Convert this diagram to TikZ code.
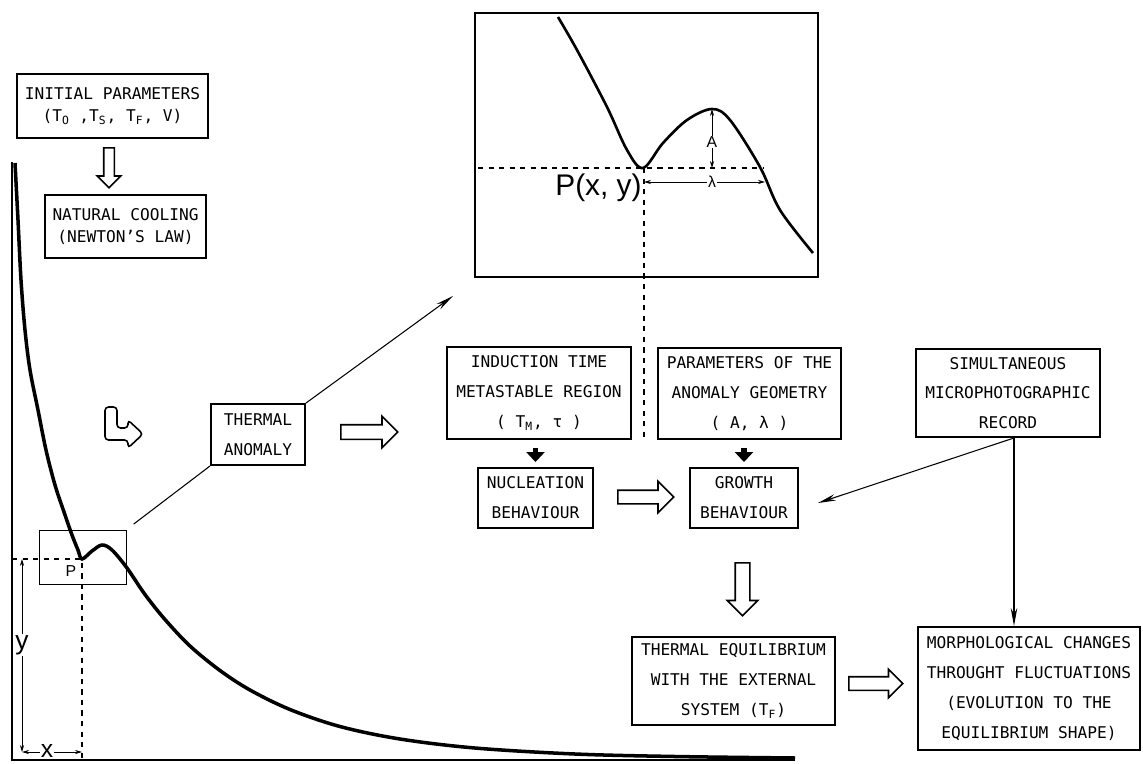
\documentclass[tikz,border=0pt]{standalone}
\usepackage{fontspec}
\setmonofont{DejaVu Sans Mono}
\newfontfamily\labelfont{Liberation Sans}
\usetikzlibrary{shapes.arrows,arrows.meta}
\tikzset{box/.style={draw, line width=1.1pt, align=center, inner sep=1pt, font=\ttfamily\fontsize{9.2}{17}\selectfont}}
\tikzset{tightbox/.style={box, font=\ttfamily\fontsize{9.2}{13}\selectfont}}
\tikzset{hollow/.style={single arrow, draw, line width=0.9pt, inner xsep=0pt, fill=white}}
\tikzset{thin arrow/.style={line width=0.6pt, -{Stealth[length=0.36cm, width=0.13cm]}}}
\tikzset{dim/.style={line width=0.5pt, {Stealth[length=4pt, width=2.4pt]}-{Stealth[length=4pt, width=2.4pt]}}}
\tikzset{fat/.style={line width=3pt, -{Triangle[length=0.2cm, width=0.36cm]}}}
\tikzset{tag/.style={fill=white, inner sep=0.5pt, font=\labelfont\fontsize{9}{9}\selectfont}}

\begin{document}
\begin{tikzpicture}
  \useasboundingbox (0,0) rectangle (22.86,-15.26);

  \node (init) [tightbox, minimum width=3.82cm, minimum height=1.28cm] at (2.25cm, -2.12cm) {INITIAL PARAMETERS\\(T\textsubscript{O} ,T\textsubscript{S}, T\textsubscript{F}, V)};
  \node (cooling) [tightbox, minimum width=3.22cm, minimum height=1.26cm] at (2.51cm, -4.53cm) {NATURAL COOLING\\(NEWTON’S LAW)};
  \node (anomaly) [box, minimum width=1.88cm, minimum height=1.22cm] at (5.16cm, -8.69cm) {THERMAL\\ANOMALY};
  \node (induction) [box, minimum width=3.68cm, minimum height=1.84cm] at (10.78cm, -7.86cm) {INDUCTION TIME\\METASTABLE REGION\\( T\textsubscript{M}, τ )};
  \node (geometry) [box, minimum width=3.66cm, minimum height=1.82cm] at (14.99cm, -7.87cm) {PARAMETERS OF THE\\ANOMALY GEOMETRY\\( A, λ )};
  \node (record) [box, minimum width=3.68cm, minimum height=1.76cm] at (20.16cm, -7.86cm) {SIMULTANEOUS\\MICROPHOTOGRAPHIC\\RECORD};
  \node (nucleation) [box, minimum width=2.30cm, minimum height=1.20cm] at (10.71cm, -9.96cm) {NUCLEATION\\BEHAVIOUR};
  \node (growth) [box, minimum width=2.16cm, minimum height=1.20cm] at (14.88cm, -9.96cm) {GROWTH\\BEHAVIOUR};
  \node (equilibrium) [box, minimum width=4.06cm, minimum height=1.76cm] at (14.67cm, -13.62cm) {THERMAL EQUILIBRIUM\\WITH THE EXTERNAL\\SYSTEM (T\textsubscript{F})};
  \node (morphology) [box, minimum width=4.44cm, minimum height=2.46cm] at (20.58cm, -13.77cm) {MORPHOLOGICAL CHANGES\\THROUGHT FLUCTUATIONS\\(EVOLUTION TO THE\\EQUILIBRIUM SHAPE)};

  % cooling curve
  \draw[line width=2pt] plot[smooth, tension=0.55] coordinates {(0.30,-3.26) (0.36,-4.40) (0.42,-5.60) (0.50,-6.60) (0.60,-7.40) (0.76,-8.20) (0.92,-9.0) (1.10,-9.70) (1.28,-10.24) (1.44,-10.70) (1.56,-11.0) (1.64,-11.18) (1.84,-11.02) (2.04,-10.9) (2.24,-11.0) (2.54,-11.36) (2.9,-11.89) (3.3,-12.39) (3.8,-12.92) (4.4,-13.41) (5.0,-13.80) (5.8,-14.19) (6.8,-14.53) (8.0,-14.78) (9.5,-14.96) (11.5,-15.08) (13.5,-15.13) (15.9,-15.16)};
  \coordinate (P) at (1.64,-11.18);
  \node (zoombox) [draw, line width=0.5pt, minimum width=1.74cm, minimum height=1.08cm] at (1.65cm, -11.14cm) {};
  \draw[dashed, line width=0.6pt] (0.24,-11.18) -- (P) -- (1.64,-15.2);
  \node (plab) [tag, fill=none] at (1.42,-11.42) {P};
  \draw[dim] (0.44,-11.18) -- (0.44,-15.04);
  \draw[dim] (0.44,-15.04) -- (1.64,-15.04);
  \node (ylab) [tag, font=\labelfont\fontsize{15}{15}\selectfont] at (0.44,-12.9) {y};
  \node (xlab) [tag, font=\labelfont\fontsize{14}{14}\selectfont] at (0.94,-15.02) {x};
  \draw[line width=1.5pt] (0.24,-3.24) -- (0.24,-15.2) -- (15.9,-15.2);

  % enlarged anomaly
  \node (inset) [draw, line width=1.5pt, minimum width=6.86cm, minimum height=5.28cm] at (12.93cm, -2.90cm) {};
  \draw[line width=1.5pt] plot[smooth, tension=0.55] coordinates {(11.16,-0.34) (11.54,-1.0) (12.14,-2.14) (12.54,-3.0) (12.86,-3.36) (13.26,-2.86) (13.74,-2.40) (14.24,-2.18) (14.6,-2.4) (15.2,-3.34) (15.6,-4.2) (16.26,-5.06)};
  \coordinate (Q) at (12.88,-3.36);
  \draw[dashed, line width=0.7pt] (9.56,-3.36) -- (15.26,-3.36);
  \draw[dashed, line width=0.6pt] (Q) -- (12.88,-8.84);
  \draw[dim] (14.24,-2.18) -- (14.24,-3.36);
  \draw[dim] (12.88,-3.64) -- (15.3,-3.64);
  \node (alab) [tag] at (14.24,-2.84) {A};
  \node (llab) [tag] at (14.24,-3.64) {λ};
  \node (qlab) [anchor=east, inner sep=0pt, font=\labelfont\fontsize{17}{17}\selectfont] at (12.84,-3.76) {P(x, y)};

  % hollow arrows
  \node (down1) [hollow, rotate=-90, inner ysep=0.09cm, minimum height=0.8cm, minimum width=0.44cm, single arrow head extend=0.13cm, anchor=tail] at (2.18,-2.94) {};
  \node (right1) [hollow, inner ysep=0.13cm, minimum height=1.14cm, minimum width=0.6cm, single arrow head extend=0.17cm, anchor=tail] at (6.80,-8.64) {};
  \node (right2) [hollow, inner ysep=0.12cm, minimum height=1.12cm, minimum width=0.6cm, single arrow head extend=0.18cm, anchor=tail] at (12.34,-9.94) {};
  \node (down2) [hollow, rotate=-90, inner ysep=0.13cm, minimum height=1.06cm, minimum width=0.58cm, single arrow head extend=0.16cm, anchor=tail] at (14.85,-11.24) {};
  \node (right3) [hollow, inner ysep=0.12cm, minimum height=1.08cm, minimum width=0.54cm, single arrow head extend=0.15cm, anchor=tail] at (16.96,-13.67) {};
  \draw[line width=0.9pt, rounded corners=2pt] (2.10,-8.14) -- (2.34,-8.14) -- (2.34,-8.56) -- (2.56,-8.56) -- (2.56,-8.40) -- (2.86,-8.68) -- (2.56,-8.96) -- (2.56,-8.80) -- (2.10,-8.80) -- cycle;

  % connectors
  \coordinate (insettip) at (9.06,-5.92);
  \coordinate (growthtip) at (16.36,-10.06);
  \coordinate (recfoot) at ([xshift=0.12cm]record.south);
  \draw[line width=0.6pt, shorten <=0.18cm] (zoombox.north east) -- (anomaly.south west);
  \draw[thin arrow] (anomaly.north east) -- (insettip);
  \draw[thin arrow] (recfoot) -- (growthtip);
  \draw[thin arrow] (recfoot) -- (recfoot |- morphology.north);
  \draw[fat, shorten <=0.16cm, shorten >=0.1cm] (induction.south -| nucleation.north) -- (nucleation.north);
  \draw[fat, shorten <=0.16cm, shorten >=0.1cm] (geometry.south -| growth.north) -- (growth.north);
\end{tikzpicture}
\end{document}
